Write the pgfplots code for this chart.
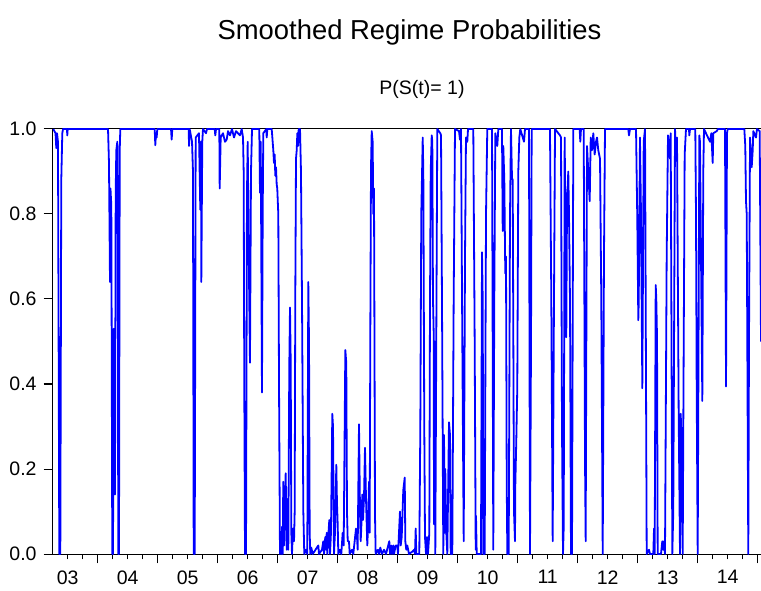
\documentclass[border=0pt]{standalone}
\usepackage{fontspec}
\setmainfont{Liberation Sans}
\usepackage{pgfplots}
\pgfplotsset{compat=1.18}
\definecolor{probblue}{RGB}{0,0,255}

% smoothed probability of regime 1 (x in decimal years)
\pgfplotstableread{
x y
2003.260 1.00
2003.297 0.99
2003.310 0.955
2003.322 0.99
2003.338 0.97
2003.360 0.00
2003.377 0.00
2003.393 0.88
2003.410 0.99
2003.422 1.00
2003.488 1.00
2003.493 0.985
2003.500 1.00
2004.172 1.00
2004.188 0.92
2004.205 0.64
2004.213 0.86
2004.227 0.82
2004.243 0.00
2004.255 0.00
2004.267 0.53
2004.277 0.50
2004.288 0.14
2004.300 0.85
2004.310 0.95
2004.327 0.97
2004.333 0.87
2004.343 0.00
2004.355 0.00
2004.367 0.95
2004.377 1.00
2004.950 1.00
2004.960 0.962
2004.972 0.99
2004.983 0.98
2004.993 1.00
2005.222 1.00
2005.233 0.975
2005.243 1.00
2005.517 1.00
2005.522 0.96
2005.533 1.00
2005.572 0.97
2005.588 0.90
2005.600 0.00
2005.617 0.00
2005.633 0.98
2005.688 0.99
2005.710 0.81
2005.722 0.97
2005.727 0.64
2005.743 0.97
2005.755 1.00
2005.805 0.99
2005.822 1.00
2005.950 1.00
2005.960 0.985
2005.972 1.00
2006.027 1.00
2006.033 0.86
2006.050 0.98
2006.088 0.99
2006.122 0.97
2006.150 0.975
2006.172 0.995
2006.205 0.985
2006.238 1.00
2006.272 0.98
2006.305 0.995
2006.338 0.99
2006.372 0.985
2006.400 1.00
2006.422 0.98
2006.433 0.90
2006.443 0.40
2006.455 0.00
2006.472 0.00
2006.488 0.85
2006.500 0.97
2006.522 0.65
2006.538 0.45
2006.555 0.90
2006.572 1.00
2006.693 1.00
2006.705 0.85
2006.717 0.97
2006.727 0.70
2006.738 0.38
2006.750 0.80
2006.760 0.99
2006.810 1.00
2006.817 0.98
2006.827 1.00
2006.900 1.00
2006.927 0.95
2006.938 0.92
2006.950 0.94
2006.960 0.89
2006.972 0.91
2006.983 0.87
2006.993 0.86
2007.010 0.80
2007.022 0.40
2007.038 0.00
2007.050 0.02
2007.060 0.00
2007.072 0.064
2007.083 0.00
2007.093 0.17
2007.105 0.02
2007.133 0.19
2007.150 0.01
2007.167 0.13
2007.177 0.01
2007.193 0.44
2007.205 0.58
2007.217 0.45
2007.227 0.05
2007.238 0.00
2007.255 0.06
2007.272 0.03
2007.283 0.10
2007.293 0.60
2007.305 0.93
2007.317 0.95
2007.327 0.99
2007.338 0.96
2007.350 1.00
2007.372 1.00
2007.388 0.90
2007.405 0.60
2007.427 0.10
2007.443 0.00
2007.472 0.01
2007.493 0.00
2007.510 0.64
2007.522 0.50
2007.533 0.05
2007.543 0.00
2007.560 0.015
2007.583 0.00
2007.677 0.02
2007.688 0.00
2007.738 0.01
2007.760 0.03
2007.772 0.00
2007.793 0.04
2007.805 0.01
2007.817 0.05
2007.827 0.00
2007.838 0.03
2007.860 0.08
2007.872 0.00
2007.888 0.05
2007.910 0.33
2007.922 0.30
2007.938 0.00
2007.955 0.05
2007.977 0.21
2007.988 0.12
2008.000 0.07
2008.010 0.00
2008.038 0.01
2008.060 0.00
2008.083 0.05
2008.100 0.02
2008.127 0.48
2008.143 0.45
2008.155 0.10
2008.167 0.03
2008.188 0.03
2008.200 0.00
2008.238 0.01
2008.260 0.00
2008.305 0.06
2008.322 0.04
2008.333 0.01
2008.355 0.305
2008.372 0.10
2008.383 0.03
2008.393 0.06
2008.410 0.14
2008.422 0.08
2008.438 0.13
2008.455 0.25
2008.472 0.13
2008.493 0.02
2008.505 0.06
2008.522 0.17
2008.533 0.05
2008.543 0.50
2008.555 0.91
2008.567 0.995
2008.583 0.97
2008.593 0.80
2008.605 0.86
2008.622 0.09
2008.633 0.00
2008.672 0.01
2008.688 0.00
2008.710 0.015
2008.738 0.00
2008.772 0.01
2008.805 0.00
2008.860 0.03
2008.872 0.00
2008.893 0.02
2008.905 0.00
2008.927 0.02
2008.938 0.00
2008.967 0.02
2008.993 0.02
2009.005 0.00
2009.038 0.10
2009.050 0.02
2009.067 0.04
2009.093 0.15
2009.117 0.18
2009.127 0.03
2009.143 0.01
2009.160 0.02
2009.188 0.00
2009.238 0.005
2009.272 0.01
2009.288 0.00
2009.300 0.06
2009.310 0.00
2009.360 0.00
2009.377 0.30
2009.393 0.80
2009.417 0.98
2009.427 0.90
2009.443 0.30
2009.455 0.04
2009.472 0.00
2009.488 0.04
2009.505 0.00
2009.527 0.05
2009.538 0.58
2009.550 0.90
2009.567 0.985
2009.577 0.97
2009.588 0.60
2009.600 0.52
2009.605 0.07
2009.617 0.50
2009.627 0.00
2009.643 0.50
2009.660 1.00
2009.710 0.99
2009.722 0.985
2009.738 0.60
2009.760 0.00
2009.772 0.28
2009.783 0.05
2009.793 0.20
2009.810 0.05
2009.827 0.00
2009.855 0.31
2009.872 0.28
2009.883 0.00
2009.910 0.00
2009.933 0.60
2009.955 1.00
2010.022 0.995
2010.038 0.975
2010.055 1.00
2010.077 0.50
2010.100 0.03
2010.122 0.70
2010.138 0.98
2010.160 0.97
2010.172 1.00
2010.260 1.00
2010.283 0.50
2010.300 0.01
2010.305 0.09
2010.317 0.00
2010.388 0.00
2010.405 0.71
2010.417 0.60
2010.427 0.00
2010.450 0.00
2010.472 0.80
2010.493 1.00
2010.572 1.00
2010.583 0.50
2010.593 0.01
2010.610 0.60
2010.627 0.99
2010.660 0.96
2010.677 1.00
2010.738 1.00
2010.750 0.76
2010.760 0.96
2010.777 0.88
2010.793 0.66
2010.805 0.70
2010.817 0.17
2010.827 0.00
2010.850 0.00
2010.872 0.80
2010.888 1.00
2010.905 0.885
2010.917 0.88
2010.938 0.10
2010.955 0.03
2010.960 0.16
2010.977 0.27
2010.993 0.39
2011.010 0.90
2011.027 0.98
2011.043 1.00
2011.105 0.97
2011.122 1.00
2011.188 1.00
2011.205 0.00
2011.222 0.50
2011.233 1.00
2011.538 1.00
2011.560 0.60
2011.583 0.03
2011.605 0.60
2011.622 1.00
2011.705 0.985
2011.722 0.98
2011.738 0.30
2011.755 0.00
2011.767 0.064
2011.783 0.98
2011.810 0.51
2011.822 0.83
2011.843 0.90
2011.855 0.80
2011.872 0.59
2011.888 0.00
2011.905 0.00
2011.927 1.00
2012.033 1.00
2012.043 0.97
2012.055 1.00
2012.100 1.00
2012.122 0.22
2012.133 0.03
2012.155 0.96
2012.177 0.90
2012.200 0.83
2012.217 0.98
2012.238 0.95
2012.260 0.99
2012.283 0.94
2012.305 0.97
2012.322 0.98
2012.343 0.95
2012.372 0.93
2012.393 0.60
2012.417 0.00
2012.438 0.70
2012.455 1.00
2012.843 1.00
2012.855 0.985
2012.872 1.00
2012.972 1.00
2012.993 0.79
2013.010 0.55
2013.017 0.59
2013.038 0.98
2013.055 0.80
2013.077 0.39
2013.100 0.97
2013.122 1.00
2013.150 0.00
2013.188 0.01
2013.205 0.00
2013.260 0.00
2013.272 0.06
2013.283 0.00
2013.300 0.633
2013.310 0.60
2013.322 0.51
2013.333 0.00
2013.388 0.00
2013.410 0.03
2013.427 0.01
2013.438 0.03
2013.455 0.00
2013.483 0.70
2013.505 0.985
2013.522 0.96
2013.538 0.93
2013.550 0.99
2013.577 0.00
2013.593 0.10
2013.622 1.00
2013.638 0.94
2013.655 0.98
2013.683 0.33
2013.705 0.00
2013.717 0.33
2013.733 0.25
2013.750 0.00
2013.767 0.50
2013.783 0.94
2013.805 1.00
2013.855 1.00
2013.860 0.985
2013.872 1.00
2013.960 1.00
2013.972 0.79
2013.983 0.39
2014.000 0.00
2014.017 0.60
2014.027 0.985
2014.038 0.97
2014.077 0.36
2014.093 0.90
2014.105 1.00
2014.205 0.97
2014.227 0.99
2014.250 0.92
2014.260 0.99
2014.317 0.995
2014.338 1.00
2014.455 1.00
2014.472 0.394
2014.488 0.99
2014.500 1.00
2014.777 1.00
2014.793 0.96
2014.805 0.83
2014.817 0.80
2014.843 0.00
2014.855 0.50
2014.872 0.98
2014.900 0.91
2014.917 0.95
2014.927 0.995
2014.972 0.98
2014.988 1.00
2015.033 0.995
2015.055 0.50
}\probdata

\begin{document}
\begin{tikzpicture}
\begin{axis}[
    name=ax,
    scale only axis,
    width=354pt, height=212.5pt,
    xmin=2003.255, xmax=2015.055,
    ymin=0, ymax=1,
    clip=false,
    axis line style={line width=0.5pt},
    tick align=outside,
    tick pos=left,
    major tick length=4.7pt,
    minor tick length=2.7pt,
    tick style={black, line width=0.5pt},
    xtick={2004,2005,2006,2007,2008,2009,2010,2011,2012,2013,2014,2015},
    xticklabels={03,04,05,06,07,08,09,10,11,12,13,14},
    xticklabel style={xshift=-15pt},
    minor xtick={2003.5,2003.75,
      2004.25,2004.5,2004.75,2005.25,2005.5,2005.75,
      2006.25,2006.5,2006.75,2007.25,2007.5,2007.75,
      2008.25,2008.5,2008.75,2009.25,2009.5,2009.75,
      2010.25,2010.5,2010.75,2011.25,2011.5,2011.75,
      2012.25,2012.5,2012.75,2013.25,2013.5,2013.75,
      2014.25,2014.5,2014.75},
    ytick={0,0.2,0.4,0.6,0.8,1},
    ticklabel style={font=\fontsize{9.75}{11}\selectfont},
    yticklabel style={/pgf/number format/.cd, fixed, fixed zerofill, precision=1},
    /pgf/number format/assume math mode=true,
  ]
  \addplot[probblue, line width=0.9pt, line join=round] table[x=x, y=y] {\probdata};
\end{axis}
\node[anchor=base, font=\fontsize{13.7}{16}\selectfont] at ([xshift=1.25pt, yshift=44.5pt]ax.north) {Smoothed Regime Probabilities};
\node[anchor=base, font=\fontsize{9.75}{12}\selectfont] at ([xshift=7.5pt, yshift=17pt]ax.north) {P(S(t)= 1)};
\pgfresetboundingbox
\path[use as bounding box] ([xshift=-26.5pt, yshift=-18pt]ax.south west) rectangle ([yshift=64.5pt]ax.north east);
\end{tikzpicture}
\end{document}
